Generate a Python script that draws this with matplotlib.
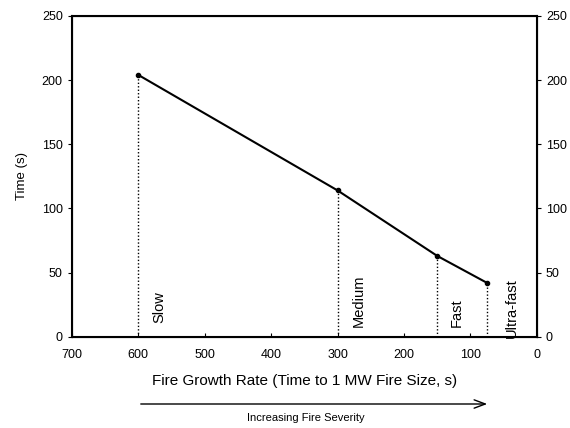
import matplotlib
matplotlib.use("Agg")
import matplotlib.pyplot as plt

plt.rcParams['font.family'] = ['Liberation Sans', 'DejaVu Sans']

# fire growth rate (s to 1 MW) and time (s)
growth_rate = [600, 300, 150, 75]
time_s = [204, 114, 63, 42]
categories = ['Slow', 'Medium', 'Fast', 'Ultra-fast']

# where the category names sit (data coords)
label_x = [568, 268, 120, 37]
label_y = [23, 28, 19, 22]

fig = plt.figure(figsize=(5.7, 4.28), dpi=100)
ax = fig.add_axes([0.126, 0.213, 0.816, 0.75])

ax.plot(growth_rate, time_s, color='black', lw=1.5, marker='o', ms=3)
ax.vlines(growth_rate, 0, time_s, colors='black', linestyles=(0, (1, 1.5)), lw=1)

for x, y, name in zip(label_x, label_y, categories):
    ax.text(x, y, name, rotation=90, ha='center', va='center', fontsize=10.5)

ax.set_xlim(700, 0)
ax.set_ylim(0, 250)
ax.set_xticks(range(700, -1, -100))
ax.set_yticks(range(0, 251, 50))
ax.tick_params(axis='x', direction='in', length=3, labelsize=9, pad=9)
ax.tick_params(axis='y', direction='out', length=3, labelsize=9)
for s in ax.spines.values():
    s.set_linewidth(1.5)

ax2 = ax.twinx()
ax2.set_ylim(0, 250)
ax2.set_yticks(range(0, 251, 50))
ax2.tick_params(axis='y', direction='out', length=3, labelsize=9)

ax.set_ylabel('Time (s)', fontsize=9.5, labelpad=10)
ax.set_xlabel('Fire Growth Rate (Time to 1 MW Fire Size, s)', fontsize=11, labelpad=9)

# severity arrow below the axis
fig.add_artist(matplotlib.patches.FancyArrowPatch(
    (138 / 570, 1 - 404 / 428), (490 / 570, 1 - 404 / 428),
    transform=fig.transFigure, arrowstyle='->,head_length=8,head_width=3',
    color='black', lw=1))
fig.text(306 / 570, 1 - 418 / 428, 'Increasing Fire Severity', ha='center',
         va='center', fontsize=8)

fig.savefig('out.png', dpi=100)
